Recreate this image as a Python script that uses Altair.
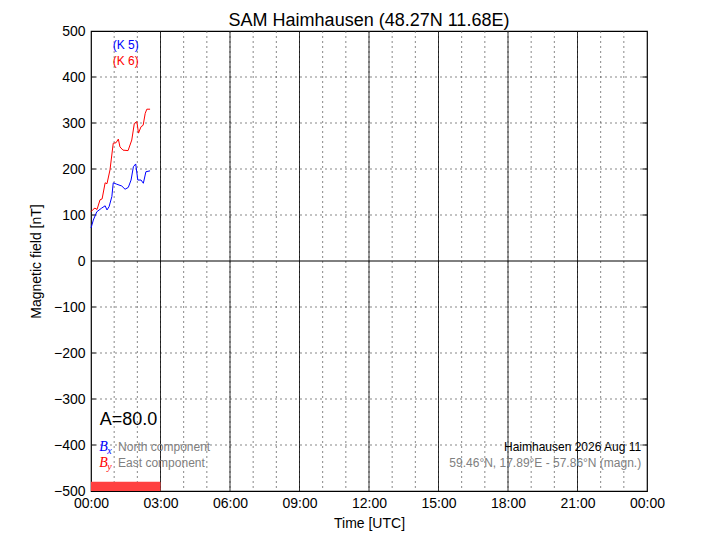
import altair as alt
import pandas as pd

TITLE = "SAM Haimhausen (48.27N 11.68E)"

# Bx (North component), hours UTC / nT
t_bx = [0.0, 0.05, 0.1, 0.25, 0.46, 0.61, 0.69, 0.78, 0.90, 0.96, 1.11, 1.33, 1.47,
        1.61, 1.73, 1.83, 1.93, 2.02, 2.16, 2.26, 2.37, 2.55]
bx = [72, 80, 89, 107, 115, 120, 111, 118, 140, 170, 167, 163, 156,
      160, 176, 205, 211, 176, 176, 169, 194, 196]

# By (East component)
t_by = [0.0, 0.09, 0.17, 0.26, 0.39, 0.48, 0.61, 0.69, 0.82, 0.96, 1.08, 1.18, 1.25,
        1.38, 1.60, 1.76, 1.87, 1.98, 2.05, 2.16, 2.25, 2.34, 2.41, 2.55]
by = [107, 112, 115, 112, 133, 135, 170, 168, 198, 256, 257, 265, 248,
      241, 240, 263, 299, 303, 278, 292, 295, 321, 330, 330]

x_ticks = [0, 3, 6, 9, 12, 15, 18, 21, 24]
x_tick_labels = ["00:00", "03:00", "06:00", "09:00", "12:00", "15:00", "18:00", "21:00", "00:00"]
y_ticks = [-500, -400, -300, -200, -100, 0, 100, 200, 300, 400, 500]
grid_y = [-400, -300, -200, -100, 100, 200, 300, 400]
grid_hours = list(range(1, 24))
solid_hours = [3, 6, 9, 12, 15, 18, 21]

k_labels = ["(K 5)", "(K 6)"]
k_label_y = [470, 435]
k_colors = ["#0000ff", "#ff0000"]
k_bar_start = [0]
k_bar_end = [3]
k_bar_top = [-480]

A_text = "A=80.0"
station_text = "Haimhausen 2026 Aug 11"
coord_text = "59.46°N, 17.89°E - 57.86°N (magn.)"

FONT = "Liberation Sans"

xs = alt.Scale(domain=[0, 24], nice=False, zero=False)
ys = alt.Scale(domain=[-500, 500], nice=False, zero=False)

label_expr = "[" + ",".join(f"'{l}'" for l in x_tick_labels) + "][indexof([" + \
    ",".join(str(v) for v in x_ticks) + "], datum.value)]"

x_axis = alt.Axis(values=x_ticks, labelExpr=label_expr, labelFlush=False, labelOverlap=False)
y_axis = alt.Axis(values=y_ticks, labelFlush=False, labelOverlap=False)
X = lambda f="t": alt.X(f"{f}:Q", scale=xs, title="Time [UTC]", axis=x_axis)
Y = lambda f="v": alt.Y(f"{f}:Q", scale=ys, title="Magnetic field [nT]", axis=y_axis)

hgrid = alt.Chart(pd.DataFrame({"v": grid_y})).mark_rule(
    color="#555555", strokeDash=[2, 3], strokeWidth=0.7).encode(y=Y())
vgrid = alt.Chart(pd.DataFrame({"t": grid_hours})).mark_rule(
    color="#555555", strokeDash=[2, 3], strokeWidth=0.7).encode(x=X())
vsolid = alt.Chart(pd.DataFrame({"t": solid_hours})).mark_rule(
    color="black", strokeWidth=0.8).encode(x=X())
zero = alt.Chart(pd.DataFrame({"v": [0]})).mark_rule(
    color="black", strokeWidth=1).encode(y=Y())

lt = pd.DataFrame({"v": grid_y, "t": [0.0] * len(grid_y), "t2": [0.2] * len(grid_y)})
rt = pd.DataFrame({"v": grid_y, "t": [23.8] * len(grid_y), "t2": [24.0] * len(grid_y)})
lticks = alt.Chart(lt).mark_rule(color="black", strokeWidth=1).encode(y=Y(), x=X(), x2="t2:Q")
rticks = alt.Chart(rt).mark_rule(color="black", strokeWidth=1).encode(y=Y(), x=X(), x2="t2:Q")

kbar = alt.Chart(pd.DataFrame({"t": k_bar_start, "t2": k_bar_end, "v": k_bar_top,
                               "v2": [-500]})).mark_rect(color="#ff4040").encode(
    x=X(), x2="t2:Q", y=Y(), y2="v2:Q")

line_df = pd.concat([
    pd.DataFrame({"t": t_bx, "v": bx, "c": "Bx"}),
    pd.DataFrame({"t": t_by, "v": by, "c": "By"}),
], ignore_index=True)
lines = alt.Chart(line_df).mark_line(strokeWidth=1).encode(
    x=X(), y=Y(),
    color=alt.Color("c:N", scale=alt.Scale(domain=["Bx", "By"], range=k_colors), legend=None))

def txt(s, x, y, size=12, color="black", align="left", font=FONT, style="normal", dy=0):
    return alt.Chart(pd.DataFrame({"t": [x], "v": [y]})).mark_text(
        text=s, font=font, fontSize=size, color=color, align=align, baseline="middle",
        fontStyle=style, dy=dy).encode(x=X(), y=Y())

texts = [
    txt(k_labels[0], 1.5, k_label_y[0], color=k_colors[0], align="center"),
    txt(k_labels[1], 1.5, k_label_y[1], color=k_colors[1], align="center"),
    txt(A_text, 0.38, -345, size=18),
    txt("B", 0.36, -404, size=14, color="#0000ff", font="Liberation Serif", style="italic"),
    txt("x", 0.7, -404, size=10, color="#0000ff", font="Liberation Serif", style="italic", dy=4),
    txt("North component", 1.17, -404, size=12, color="#808080"),
    txt("B", 0.36, -439, size=14, color="#ff0000", font="Liberation Serif", style="italic"),
    txt("y", 0.7, -439, size=10, color="#ff0000", font="Liberation Serif", style="italic", dy=4),
    txt("East component", 1.17, -439, size=12, color="#808080"),
    txt(station_text, 23.75, -404, size=12, align="right"),
    txt(coord_text, 23.75, -439, size=12, color="#808080", align="right"),
]

chart = alt.layer(hgrid, vgrid, vsolid, zero, lticks, rticks, kbar, lines, *texts).properties(
    width=556, height=460,
    title=alt.TitleParams(TITLE, font=FONT, fontSize=18, fontWeight="normal", color="black", offset=-6),
    padding={"left": 21, "top": 4, "right": 5, "bottom": 5},
).configure_view(stroke="black", strokeWidth=1.2).configure_axis(
    domain=False, ticks=False, grid=False, labelFont=FONT, titleFont=FONT,
    labelFontSize=14, titleFontSize=14, labelColor="black", titleColor="black",
    titleFontWeight="normal",
).configure_axisX(labelPadding=5, titlePadding=6).configure_axisY(labelPadding=6, titlePadding=10)

chart.save("out.html", embed_options={"renderer": "svg", "actions": False})
